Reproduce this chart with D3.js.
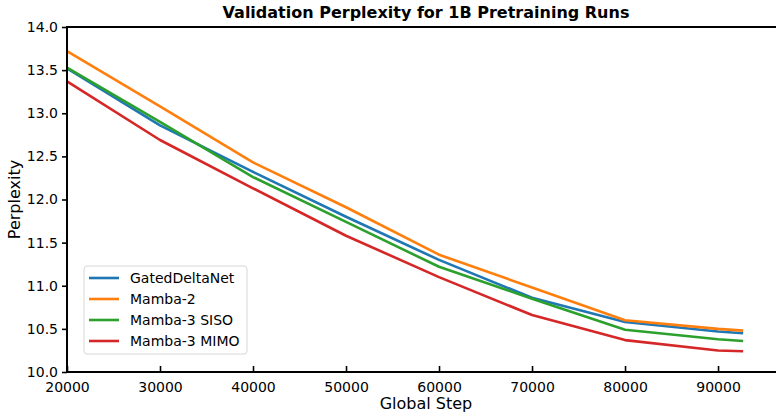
<!DOCTYPE html>
<html>
<head>
<meta charset="utf-8">
<script src="https://cdn.jsdelivr.net/npm/d3@7"></script>
<style>
  body { margin: 0; background: #fff; }
  svg { font-family: "DejaVu Sans", sans-serif; }
</style>
</head>
<body>
<div id="chart"></div>
<script>
const steps = [20000, 30000, 40000, 50000, 60000, 70000, 80000, 90000, 92700];
const gatedDeltaNet = [13.52, 12.86, 12.32, 11.80, 11.30, 10.86, 10.58, 10.47, 10.45];
const mamba2        = [13.72, 13.08, 12.43, 11.91, 11.36, 10.98, 10.60, 10.50, 10.48];
const mamba3Siso    = [13.53, 12.90, 12.26, 11.74, 11.22, 10.85, 10.49, 10.38, 10.36];
const mamba3Mimo    = [13.37, 12.69, 12.13, 11.58, 11.10, 10.66, 10.37, 10.25, 10.24];
const seriesNames = ["GatedDeltaNet", "Mamba-2", "Mamba-3 SISO", "Mamba-3 MIMO"];
const colors = ["#1f77b4", "#ff7f0e", "#2ca02c", "#d62728"];
const xTicks = [20000, 30000, 40000, 50000, 60000, 70000, 80000, 90000];
const yTicks = [10.0, 10.5, 11.0, 11.5, 12.0, 12.5, 13.0, 13.5, 14.0];

let width = 776,
    height = 416;
let plotLeft = 67, plotRight = 785, plotTop = 27, plotBottom = 372;

let svg = d3.select("#chart").append("svg")
  .attr("width", width)
  .attr("height", height);

let x = d3.scaleLinear()
  .domain([20000, 97200])
  .range([plotLeft, plotRight]);

let y = d3.scaleLinear()
  .domain([10, 14])
  .range([plotBottom, plotTop]);

let allSeries = [gatedDeltaNet, mamba2, mamba3Siso, mamba3Mimo];

let line = d3.line()
  .x((d, i) => x(steps[i]))
  .y(d => y(d));

svg.append("g")
  .selectAll("path")
  .data(allSeries)
  .enter().append("path")
    .attr("d", line)
    .attr("fill", "none")
    .attr("stroke", (d, i) => colors[i])
    .attr("stroke-width", 2.6)
    .attr("stroke-linejoin", "round");

// x axis, ticks pointing inwards
let xAxis = svg.append("g")
  .attr("transform", `translate(0,${plotBottom})`)
  .call(d3.axisBottom(x)
    .tickValues(xTicks)
    .tickSizeInner(-6)
    .tickSizeOuter(0)
    .tickPadding(10)
    .tickFormat(d3.format("d")));
xAxis.select(".domain").remove();
xAxis.selectAll(".tick line").attr("stroke", "#000").attr("stroke-width", 1.6);
xAxis.selectAll("text").attr("font-size", 14).attr("fill", "#000")
  .attr("font-family", "DejaVu Sans");

// y axis, ticks pointing outwards
let yAxis = svg.append("g")
  .attr("transform", `translate(${plotLeft},0)`)
  .call(d3.axisLeft(y)
    .tickValues(yTicks)
    .tickSizeInner(5)
    .tickSizeOuter(0)
    .tickPadding(4)
    .tickFormat(d3.format(".1f")));
yAxis.select(".domain").remove();
yAxis.selectAll(".tick line").attr("stroke", "#000").attr("stroke-width", 1.6);
yAxis.selectAll("text").attr("font-size", 14).attr("fill", "#000")
  .attr("font-family", "DejaVu Sans");

// spines
svg.append("path")
  .attr("d", `M${plotLeft},${plotTop}H${plotRight}M${plotLeft},${plotBottom}H${plotRight}M${plotLeft},${plotTop - 1}V${plotBottom + 1}`)
  .attr("stroke", "#000")
  .attr("stroke-width", 2)
  .attr("fill", "none");

svg.append("text")
  .attr("x", (plotLeft + plotRight) / 2)
  .attr("y", 18)
  .attr("text-anchor", "middle")
  .attr("font-size", 16)
  .attr("font-weight", "bold")
  .text("Validation Perplexity for 1B Pretraining Runs");

svg.append("text")
  .attr("x", (plotLeft + plotRight) / 2)
  .attr("y", 409)
  .attr("text-anchor", "middle")
  .attr("font-size", 16)
  .text("Global Step");

svg.append("text")
  .attr("transform", `translate(20,${(plotTop + plotBottom) / 2}) rotate(-90)`)
  .attr("text-anchor", "middle")
  .attr("font-size", 16)
  .text("Perplexity");

// legend
let legend = svg.append("g").attr("transform", "translate(84,266)");
legend.append("rect")
  .attr("width", 163)
  .attr("height", 88)
  .attr("rx", 3)
  .attr("fill", "#fff")
  .attr("fill-opacity", 0.8)
  .attr("stroke", "#d6d6d6")
  .attr("stroke-width", 1);

let items = legend.selectAll("g.item")
  .data(seriesNames)
  .enter().append("g")
    .attr("class", "item")
    .attr("transform", (d, i) => `translate(0,${12 + i * 21})`);
items.append("line")
  .attr("x1", 5).attr("x2", 35)
  .attr("stroke", (d, i) => colors[i])
  .attr("stroke-width", 2.6);
items.append("text")
  .attr("x", 46)
  .attr("dy", "0.35em")
  .attr("font-size", 14)
  .text(d => d);
</script>
</body>
</html>
